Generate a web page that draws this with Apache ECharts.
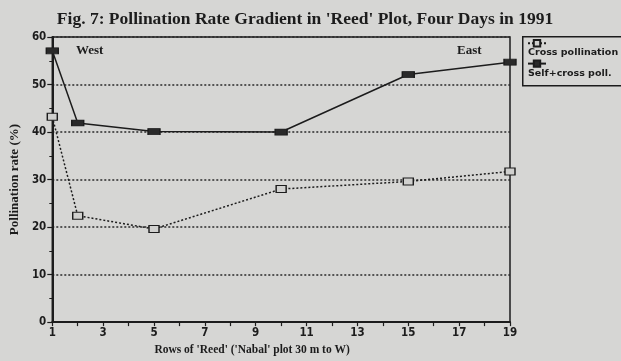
<!DOCTYPE html>
<html><head><meta charset="utf-8">
<script src="https://cdn.jsdelivr.net/npm/echarts@6/dist/echarts.min.js"></script>
<style>html,body{margin:0;padding:0;background:#d6d6d4;}#c{width:621px;height:361px;}</style>
</head><body><div id="c"></div>
<script>
const rows = ['1','2','3','4','5','6','7','8','9','10','11','12','13','14','15','16','17','18','19'];
const crossRows = ['1','2','5','10','15','19'];
const crossVals = [43.2, 22.4, 19.6, 28.0, 29.6, 31.7];
const selfRows = ['1','2','5','10','15','19'];
const selfVals = [57.1, 41.9, 40.1, 40.0, 52.1, 54.7];
const yTicks = [0,10,20,30,40,50,60];

const ink = '#1c1c1c';
const chart = echarts.init(document.getElementById('c'));
chart.setOption({
  backgroundColor: '#d6d6d4',
  animation: false,
  title: {
    text: "Fig. 7: Pollination Rate Gradient in 'Reed' Plot, Four Days in 1991",
    left: 300, top: 5, textAlign: 'center',
    textStyle: {fontFamily: 'Liberation Serif', fontWeight: 'bold', fontSize: 17.5, color: ink}
  },
  grid: {left: 52, right: 111, top: 37, bottom: 36, show: true, borderColor: ink, borderWidth: 1.5, backgroundColor: 'transparent'},
  legend: {
    orient: 'vertical', left: 527, top: 39, padding: 0, itemGap: 12, itemWidth: 18, itemHeight: 8,
    textStyle: {fontSize: 8},
    formatter: () => '',
    data: ['Cross pollination', 'Self+cross poll.']
  },
  xAxis: {
    type: 'category', data: rows, boundaryGap: false,
    name: "Rows of 'Reed' ('Nabal' plot 30 m to W)", nameLocation: 'middle', nameGap: 19,
    nameTextStyle: {fontFamily: 'Liberation Serif', fontWeight: 'bold', fontSize: 11.5, color: ink, padding: [0, 58, 0, 0]},
    axisLine: {lineStyle: {color: ink, width: 2}},
    axisTick: {show: true, interval: 0, length: 4, lineStyle: {color: ink, width: 1.2}},
    axisLabel: {interval: 1, margin: 5, fontFamily: 'DejaVu Sans Condensed', fontWeight: 'bold', fontSize: 11.5, color: ink},
    splitLine: {show: false}
  },
  yAxis: {
    type: 'value', min: 0, max: 60, interval: 10,
    name: 'Pollination rate (%)', nameLocation: 'middle', nameGap: 28,
    nameTextStyle: {fontFamily: 'Liberation Serif', fontWeight: 'bold', fontSize: 13, color: ink},
    axisLine: {show: true, lineStyle: {color: ink, width: 2}},
    axisTick: {show: true, length: 5, lineStyle: {color: ink, width: 1.2}},
    minorTick: {show: true, splitNumber: 2, length: 3, lineStyle: {color: ink, width: 1}},
    axisLabel: {margin: 6, fontFamily: 'DejaVu Sans Condensed', fontWeight: 'bold', fontSize: 11.5, color: ink,
      formatter: v => yTicks.includes(v) ? String(v) : ''},
    splitLine: {show: true, lineStyle: {color: '#2a2a2a', width: 1.5, type: [2, 2]}}
  },
  series: [
    {
      name: 'Cross pollination', type: 'line',
      data: crossRows.map((r, i) => [r, crossVals[i]]),
      symbol: 'rect', symbolSize: [10, 7],
      itemStyle: {color: '#d0d0ce', borderColor: ink, borderWidth: 1.2},
      lineStyle: {color: ink, width: 1.5, type: [2, 2]}, z: 3
    },
    {
      name: 'Self+cross poll.', type: 'line',
      data: selfRows.map((r, i) => [r, selfVals[i]]),
      symbol: 'rect', symbolSize: [12, 6],
      itemStyle: {color: '#2a2a2a', borderColor: ink, borderWidth: 1},
      lineStyle: {color: ink, width: 1.5}, z: 4
    }
  ],
  graphic: [
    {type: 'rect', left: 522, top: 36, shape: {width: 110, height: 49}, style: {fill: 'transparent', stroke: ink, lineWidth: 1.5}},
    {type: 'text', left: 528, top: 48, style: {text: 'Cross pollination', font: 'bold 9.5px "DejaVu Sans"', fill: ink}},
    {type: 'text', left: 528, top: 69, style: {text: 'Self+cross poll.', font: 'bold 9.5px "DejaVu Sans"', fill: ink}},
    {type: 'text', left: 76, top: 44, style: {text: 'West', font: 'bold 13px "Liberation Serif"', fill: ink}},
    {type: 'text', left: 457, top: 44, style: {text: 'East', font: 'bold 13px "Liberation Serif"', fill: ink}}
  ]
});
</script></body></html>
